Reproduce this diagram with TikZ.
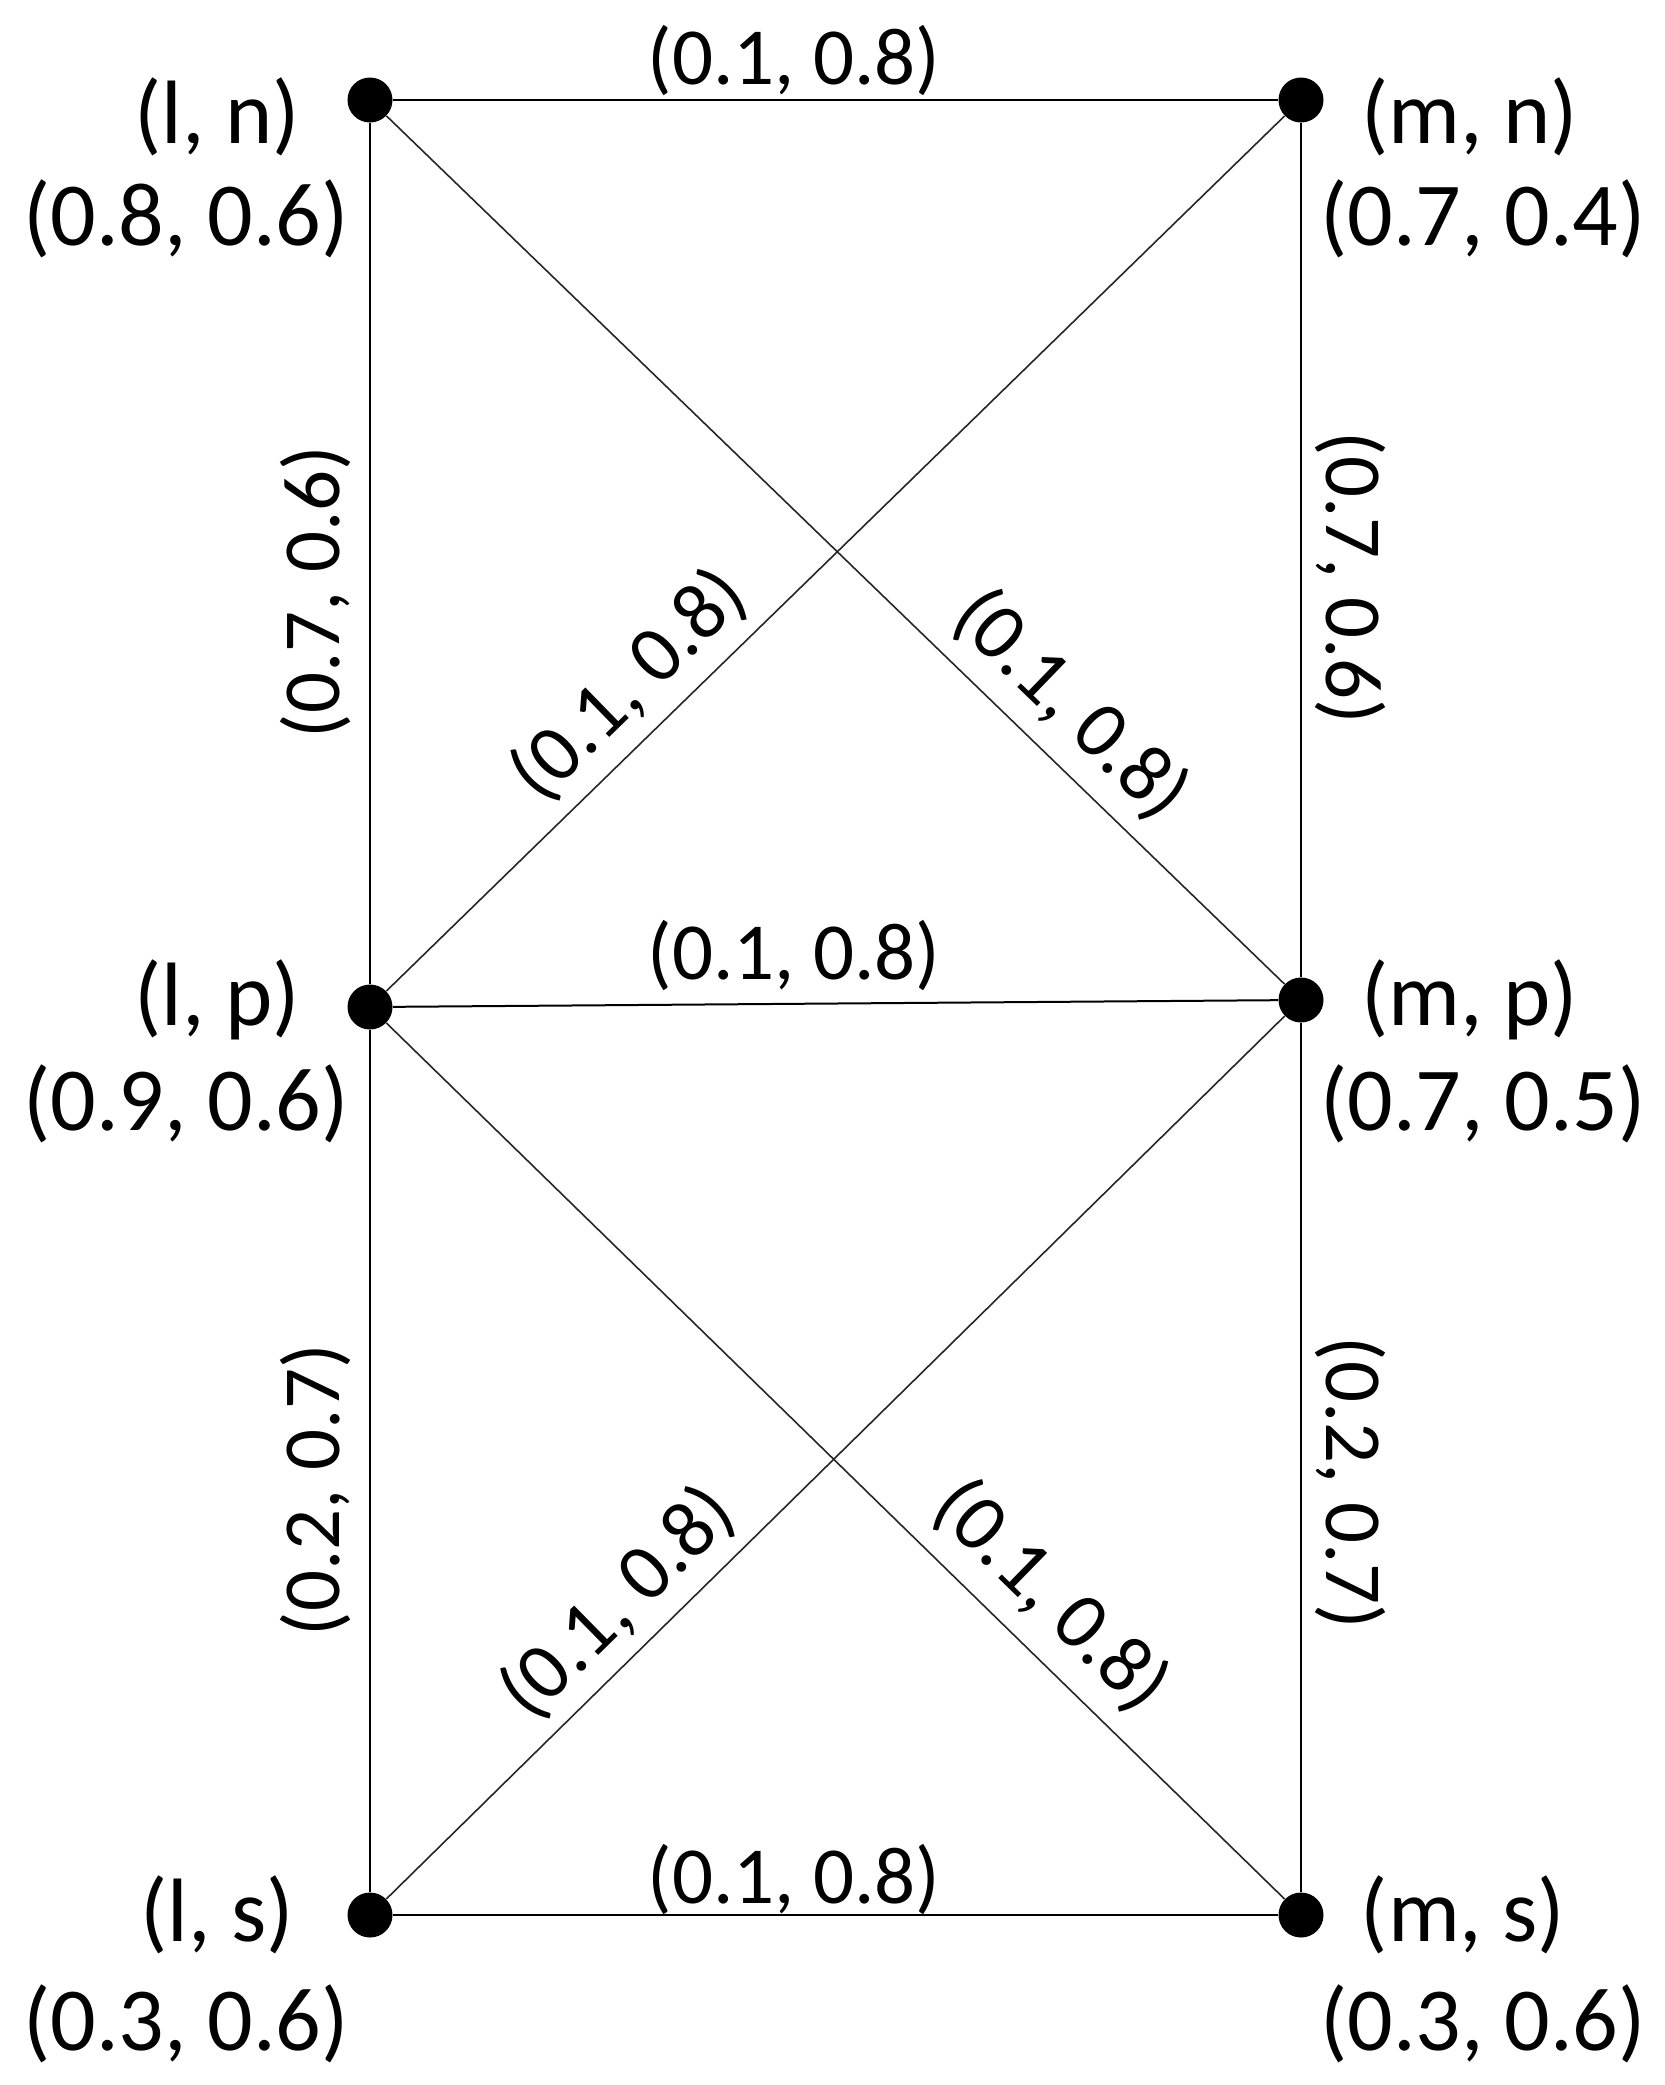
\documentclass[tikz,border=0pt]{standalone}
\usepackage{fontspec}
\setmainfont{Carlito}
\begin{document}
\begin{tikzpicture}[x=0.5pt,y=-0.5pt,
  dot/.style={circle,fill=black,inner sep=0pt,minimum size=22.5pt},
  nlab/.style={font=\fontsize{45}{52}\selectfont, inner sep=0pt},
  elab/.style={font=\fontsize{40.5}{47}\selectfont, inner sep=0pt},
  edgeline/.style={line width=1pt},
  diagline/.style={line width=0.8pt, black!85}]
\useasboundingbox (0,0) rectangle (1665,2085);
% vertices
\node[dot] (ln) at (370,100) {};
\node[dot] (mn) at (1301,100) {};
\node[dot] (lp) at (370,1007) {};
\node[dot] (mp) at (1301,1000) {};
\node[dot] (ls) at (370,1915) {};
\node[dot] (ms) at (1301,1915) {};
% vertex labels
\node[nlab] (tln) at (217,117) {(l, n)};
\node[nlab] (vln) at (186,219) {(0.8, 0.6)};
\node[nlab] (tmn) at (1470,117) {(m, n)};
\node[nlab] (vmn) at (1483,219) {(0.7, 0.4)};
\node[nlab] (tlp) at (217,1000) {(l, p)};
\node[nlab] (vlp) at (186,1104) {(0.9, 0.6)};
\node[nlab] (tmp) at (1470,1000) {(m, p)};
\node[nlab] (vmp) at (1483,1104) {(0.7, 0.5)};
\node[nlab] (tls) at (217,1915) {(l, s)};
\node[nlab] (vls) at (186,2024) {(0.3, 0.6)};
\node[nlab] (tms) at (1463,1915) {(m, s)};
\node[nlab] (vms) at (1483,2024) {(0.3, 0.6)};
% edges
\draw[edgeline] (ln) -- (mn);
\draw[edgeline] (lp) -- (mp);
\draw[edgeline] (ls) -- (ms);
\draw[edgeline] (ln) -- (lp);
\draw[edgeline] (lp) -- (ls);
\draw[edgeline] (mn) -- (mp);
\draw[edgeline] (mp) -- (ms);
\draw[diagline] (lp) -- (mn);
\draw[diagline] (ln) -- (mp);
\draw[diagline] (ls) -- (mp);
\draw[diagline] (lp) -- (ms);
% edge labels
\node[elab] (e1) at (794,60) {(0.1, 0.8)};
\node[elab] (e2) at (794,955) {(0.1, 0.8)};
\node[elab] (e3) at (794,1879) {(0.1, 0.8)};
\node[elab,rotate=90] (e4) at (315,592) {(0.7, 0.6)};
\node[elab,rotate=90] (e5) at (315,1490) {(0.2, 0.7)};
\node[elab,rotate=-90] (e6) at (1350,578) {(0.7, 0.6)};
\node[elab,rotate=-90] (e7) at (1350,1483) {(0.2, 0.7)};
\node[elab,rotate=44.25] (e8) at (629,685) {(0.1, 0.8)};
\node[elab,rotate=-44] (e9) at (1071,705) {(0.1, 0.8)};
\node[elab,rotate=44.5] (e10) at (618,1603) {(0.1, 0.8)};
\node[elab,rotate=-44.3] (e11) at (1051,1596) {(0.1, 0.8)};
\end{tikzpicture}
\end{document}
